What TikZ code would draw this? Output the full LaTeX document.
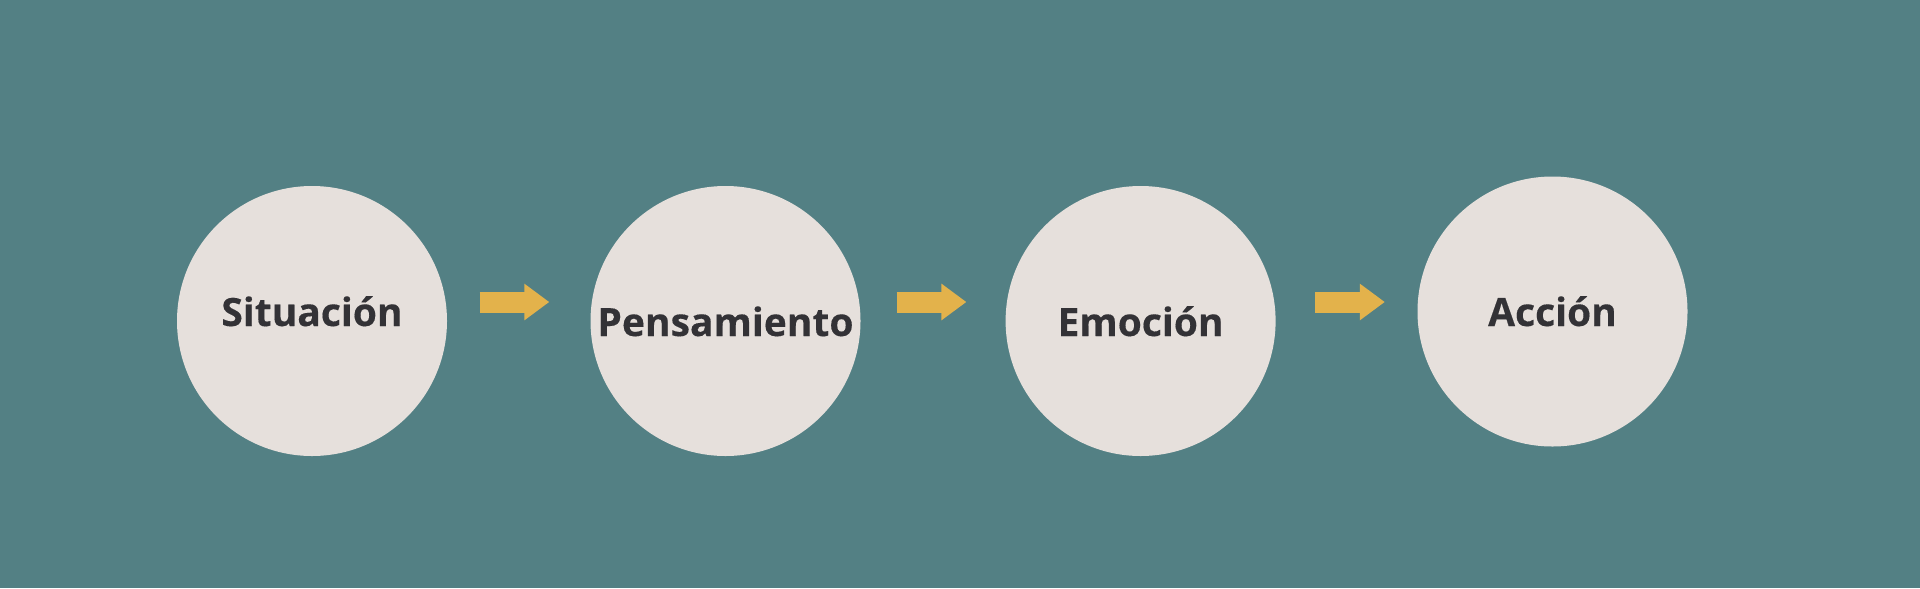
\documentclass[tikz,border=0pt]{standalone}
\usepackage{fontspec}
\setmainfont{Open Sans}
\newfontfamily\gruesa[BoldFeatures={FakeBold=0.3}]{Open Sans}
\usepackage{xcolor}
\usepackage{tikz}
\usetikzlibrary{arrows.meta,positioning}

\definecolor{fondo}{RGB}{83,128,132}
\definecolor{crema}{RGB}{230,224,220}
\definecolor{tinta}{RGB}{51,50,54}
\definecolor{mostaza}{RGB}{227,178,75}

\tikzset{
	circulo/.style={circle,fill=crema,minimum size=2.7cm,inner sep=0pt},
	texto/.style={anchor=base,text=tinta,font=\gruesa\fontsize{11.1pt}{13pt}\selectfont\bfseries,inner sep=0pt},
	flecha/.style={draw=mostaza,line width=0.21cm,-{Triangle[length=0.25cm,width=0.35cm]}}
}

\begin{document}
\begin{tikzpicture}
		\fill[fondo] (0,0) rectangle (19.2,5.88);
		\useasboundingbox (0,0) rectangle (19.2,5.88);
		% circulos
		\node[circulo] (sit) at (3.12,2.67) {};
		\node[circulo] (pen) at (7.255,2.67) {};
		\node[circulo] (emo) at (11.406,2.67) {};
		\node[circulo] (acc) at (15.525,2.765) {};
		% textos
		\node[texto] (sit-txt) at ([yshift=-0.05cm]sit.center) {Situación};
		\node[texto] (pen-txt) at ([yshift=-0.15cm]pen.center) {Pensamiento};
		\node[texto] (emo-txt) at ([yshift=-0.15cm]emo.center) {Emoción};
		\node[texto] (acc-txt) at ([yshift=-0.145cm]acc.center) {Acción};
		% flechas
		\draw[flecha] ([shift={(0.32,0.19)}]sit.east) -- ([shift={(-0.405,0.19)}]pen.west);
		\draw[flecha] ([shift={(0.355,0.19)}]pen.east) -- ([shift={(-0.385,0.19)}]emo.west);
		\draw[flecha] ([shift={(0.39,0.19)}]emo.east) -- ([shift={(-0.32,0.095)}]acc.west);
	\end{tikzpicture}
\end{document}
